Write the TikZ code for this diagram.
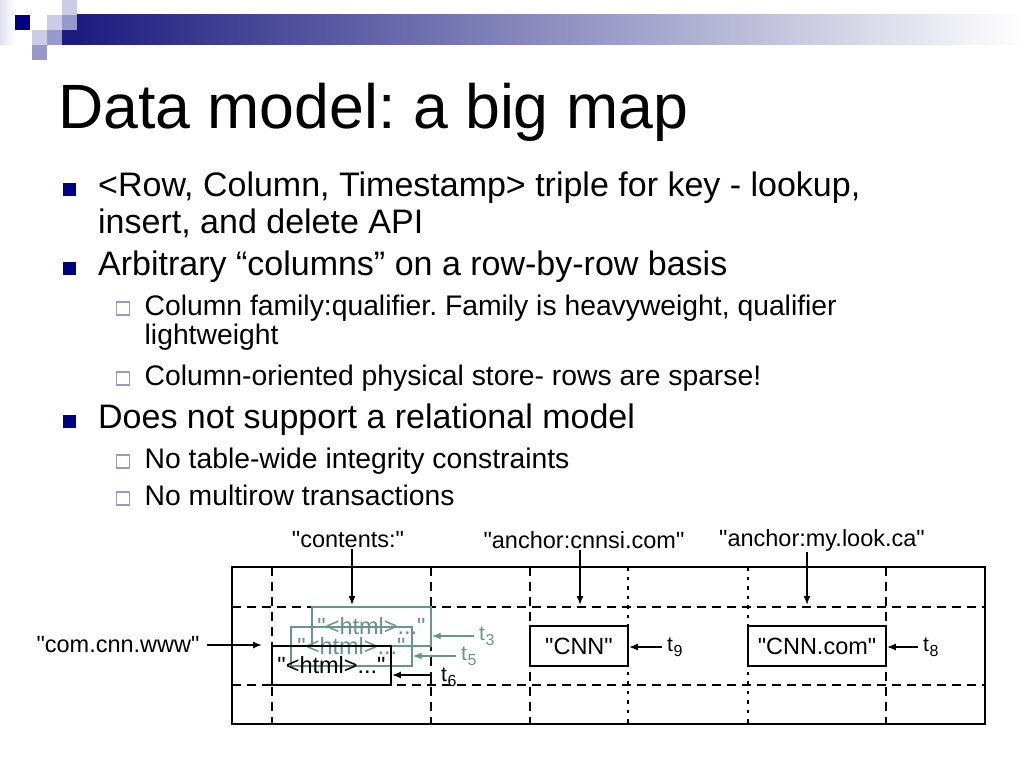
\documentclass[tikz,border=0pt]{standalone}
\usepackage{fontspec}
\setmainfont{Liberation Sans}
\usepackage{tikz}
\usetikzlibrary{arrows.meta, positioning}
\definecolor{marino}{RGB}{0,0,128}
\definecolor{barra}{RGB}{28,28,128}
\definecolor{barmedio}{RGB}{132,132,166}
\definecolor{lavclaro}{RGB}{204,204,230}
\definecolor{lavmedio}{RGB}{152,152,202}
\definecolor{verde}{RGB}{104,150,136}
\newcommand{\qq}[1]{\textquotedbl#1\textquotedbl}
\newcommand{\tsub}[1]{t\kern0.5pt\raisebox{-5pt}{\fontsize{16}{18}\selectfont#1}}

\begin{document}
\frenchspacing
\begin{tikzpicture}[x=1pt, y=-1pt, >={Latex[length=9pt,width=7pt]},
  titulo/.style={anchor=base west, inner sep=0pt, font=\fontsize{62.6}{70}\selectfont},
  nivel1/.style={anchor=base west, inner sep=0pt, font=\fontsize{34}{40}\selectfont},
  nivel2/.style={anchor=base west, inner sep=0pt, font=\fontsize{28.3}{34}\selectfont},
  etiq/.style={inner sep=1pt, font=\fontsize{23.5}{28}\selectfont},
  tlab/.style={anchor=west, inner sep=1pt, font=\fontsize{21}{24}\selectfont},
  caja/.style={draw, line width=1.8pt, minimum height=39pt, inner sep=0pt, font=\fontsize{23.5}{28}\selectfont},
  cajaverde/.style={caja, draw=verde, text=verde, line width=1.3pt},
  larga/.style={line width=1.8pt, dash pattern=on 9pt off 6pt},
  corta/.style={line width=1.8pt, dash pattern=on 3.5pt off 6pt},
  flecha/.style={->, line width=1.5pt}]
  \useasboundingbox (0,0) rectangle (1024,768);
  \fill[white] (0,0) rectangle (1024,768); % fondo
  % cabecera
  \shade[left color=lavclaro!60, right color=white] (0,0) rectangle (15,45);
  \shade[left color=barra, middle color=barmedio, right color=white] (77,15) rectangle (1024,45);
  \fill[barra] (62,30) rectangle (77,45);
  \fill[marino] (15,15) rectangle (30,30);
  \fill[lavclaro] (62,0) rectangle (77,15);
  \fill[lavclaro] (47,15) rectangle (62,30);
  \fill[lavmedio] (62,15) rectangle (77,30);
  \fill[lavclaro] (32,30) rectangle (47,45);
  \fill[lavmedio] (47,30) rectangle (62,45);
  \fill[lavmedio] (32,45) rectangle (47,60);
  \node[titulo] (tit) at (58,128) {Data model: a big map};
  % viñetas
  \foreach \y in {196,275,428} \fill[marino] (63,\y-13) rectangle (76,\y);
  \foreach \y in {315,385,468,505} \draw[lavmedio, line width=1.1pt, fill=white] (116.5,\y-13) rectangle (129.5,\y);
  \node[nivel1] (b1) at (98,196) {<Row, Column, Timestamp> triple for key - lookup,};
  \node[nivel1] (b1b) at (98,233) {insert, and delete API};
  \node[nivel1] (b2) at (98,275) {Arbitrary “columns” on a row-by-row basis};
  \node[nivel2] (s1) at (144.5,315) {Column family:qualifier. Family is heavyweight, qualifier};
  \node[nivel2] (s1b) at (144.5,344) {lightweight};
  \node[nivel2] (s2) at (144.5,385) {Column-oriented physical store- rows are sparse!};
  \node[nivel1] (b3) at (98,428) {Does not support a relational model};
  \node[nivel2] (s3) at (144.5,468) {No table-wide integrity constraints};
  \node[nivel2] (s4) at (144.5,505) {No multirow transactions};
  % tabla
  \draw[line width=1.8pt] (232,567) rectangle (985,724); % marco
  \foreach \y in {607,685} \draw[larga] (232,\y) -- (985,\y);
  \foreach \x in {272,431,530,886} \draw[larga] (\x,567) -- (\x,724);
  \foreach \x in {628,748} \draw[corta] (\x,567) -- (\x,724);
  % celdas
  \node[cajaverde, minimum width=119pt] (html3) at (371.5,626.5) {\qq{<html>...}};
  \node[cajaverde, minimum width=121pt] (html5) at (351.5,646.5) {\qq{<html>...}};
  \node[caja, minimum width=119pt] (html6) at (331.5,665.5) {\qq{<html>...}};
  \node[caja, minimum width=98pt, minimum height=40pt] (cnn) at (579,646) {\qq{CNN}};
  \node[caja, minimum width=138pt, minimum height=40pt] (cnncom) at (817,646) {\qq{CNN.com}};
  % etiquetas de fila y columnas
  \node[etiq] (fila) at (118,645) {\qq{com.cnn.www}};
  \node[etiq] (contents) at (348,540) {\qq{contents:}};
  \node[etiq] (cnnsi) at (584,540) {\qq{anchor:cnnsi.com}};
  \node[etiq] (mylook) at (822,540) {\qq{anchor:my.look.ca}};
  \coordinate (cfila) at (262,645);
  \coordinate (ccont) at (352,605);
  \coordinate (ccnnsi) at (580,605);
  \coordinate (clook) at (807,605);
  \draw[flecha, shorten <=6pt] (fila) -- (cfila);
  \draw[flecha] (contents.south -| ccont) -- (ccont);
  \draw[flecha] (cnnsi.south -| ccnnsi) -- (ccnnsi);
  \draw[flecha] (mylook.south -| clook) -- (clook);
  % marcas de tiempo
  \node[tlab, text=verde] (t3) at (478,636) {\tsub{3}};
  \node[tlab, text=verde] (t5) at (460,656) {\tsub{5}};
  \node[tlab] (t6) at (440,677) {\tsub{6}};
  \node[tlab] (t9) at (666,647) {\tsub{9}};
  \node[tlab] (t8) at (922,647) {\tsub{8}};
  \coordinate (t6pie) at (431,685);
  \draw[flecha, verde, shorten <=4pt] (t3.west) -- (t3.west -| html3.east);
  \draw[flecha, verde, shorten <=4pt] (t5.west) -- (t5.west -| html5.east);
  \draw[flecha] (t6pie) |- ([yshift=-9.5pt]html6.east);
  \draw[flecha, shorten <=4pt] (t9.west) -- (t9.west -| cnn.east);
  \draw[flecha, shorten <=4pt] (t8.west) -- (t8.west -| cnncom.east);
\end{tikzpicture}
\end{document}
